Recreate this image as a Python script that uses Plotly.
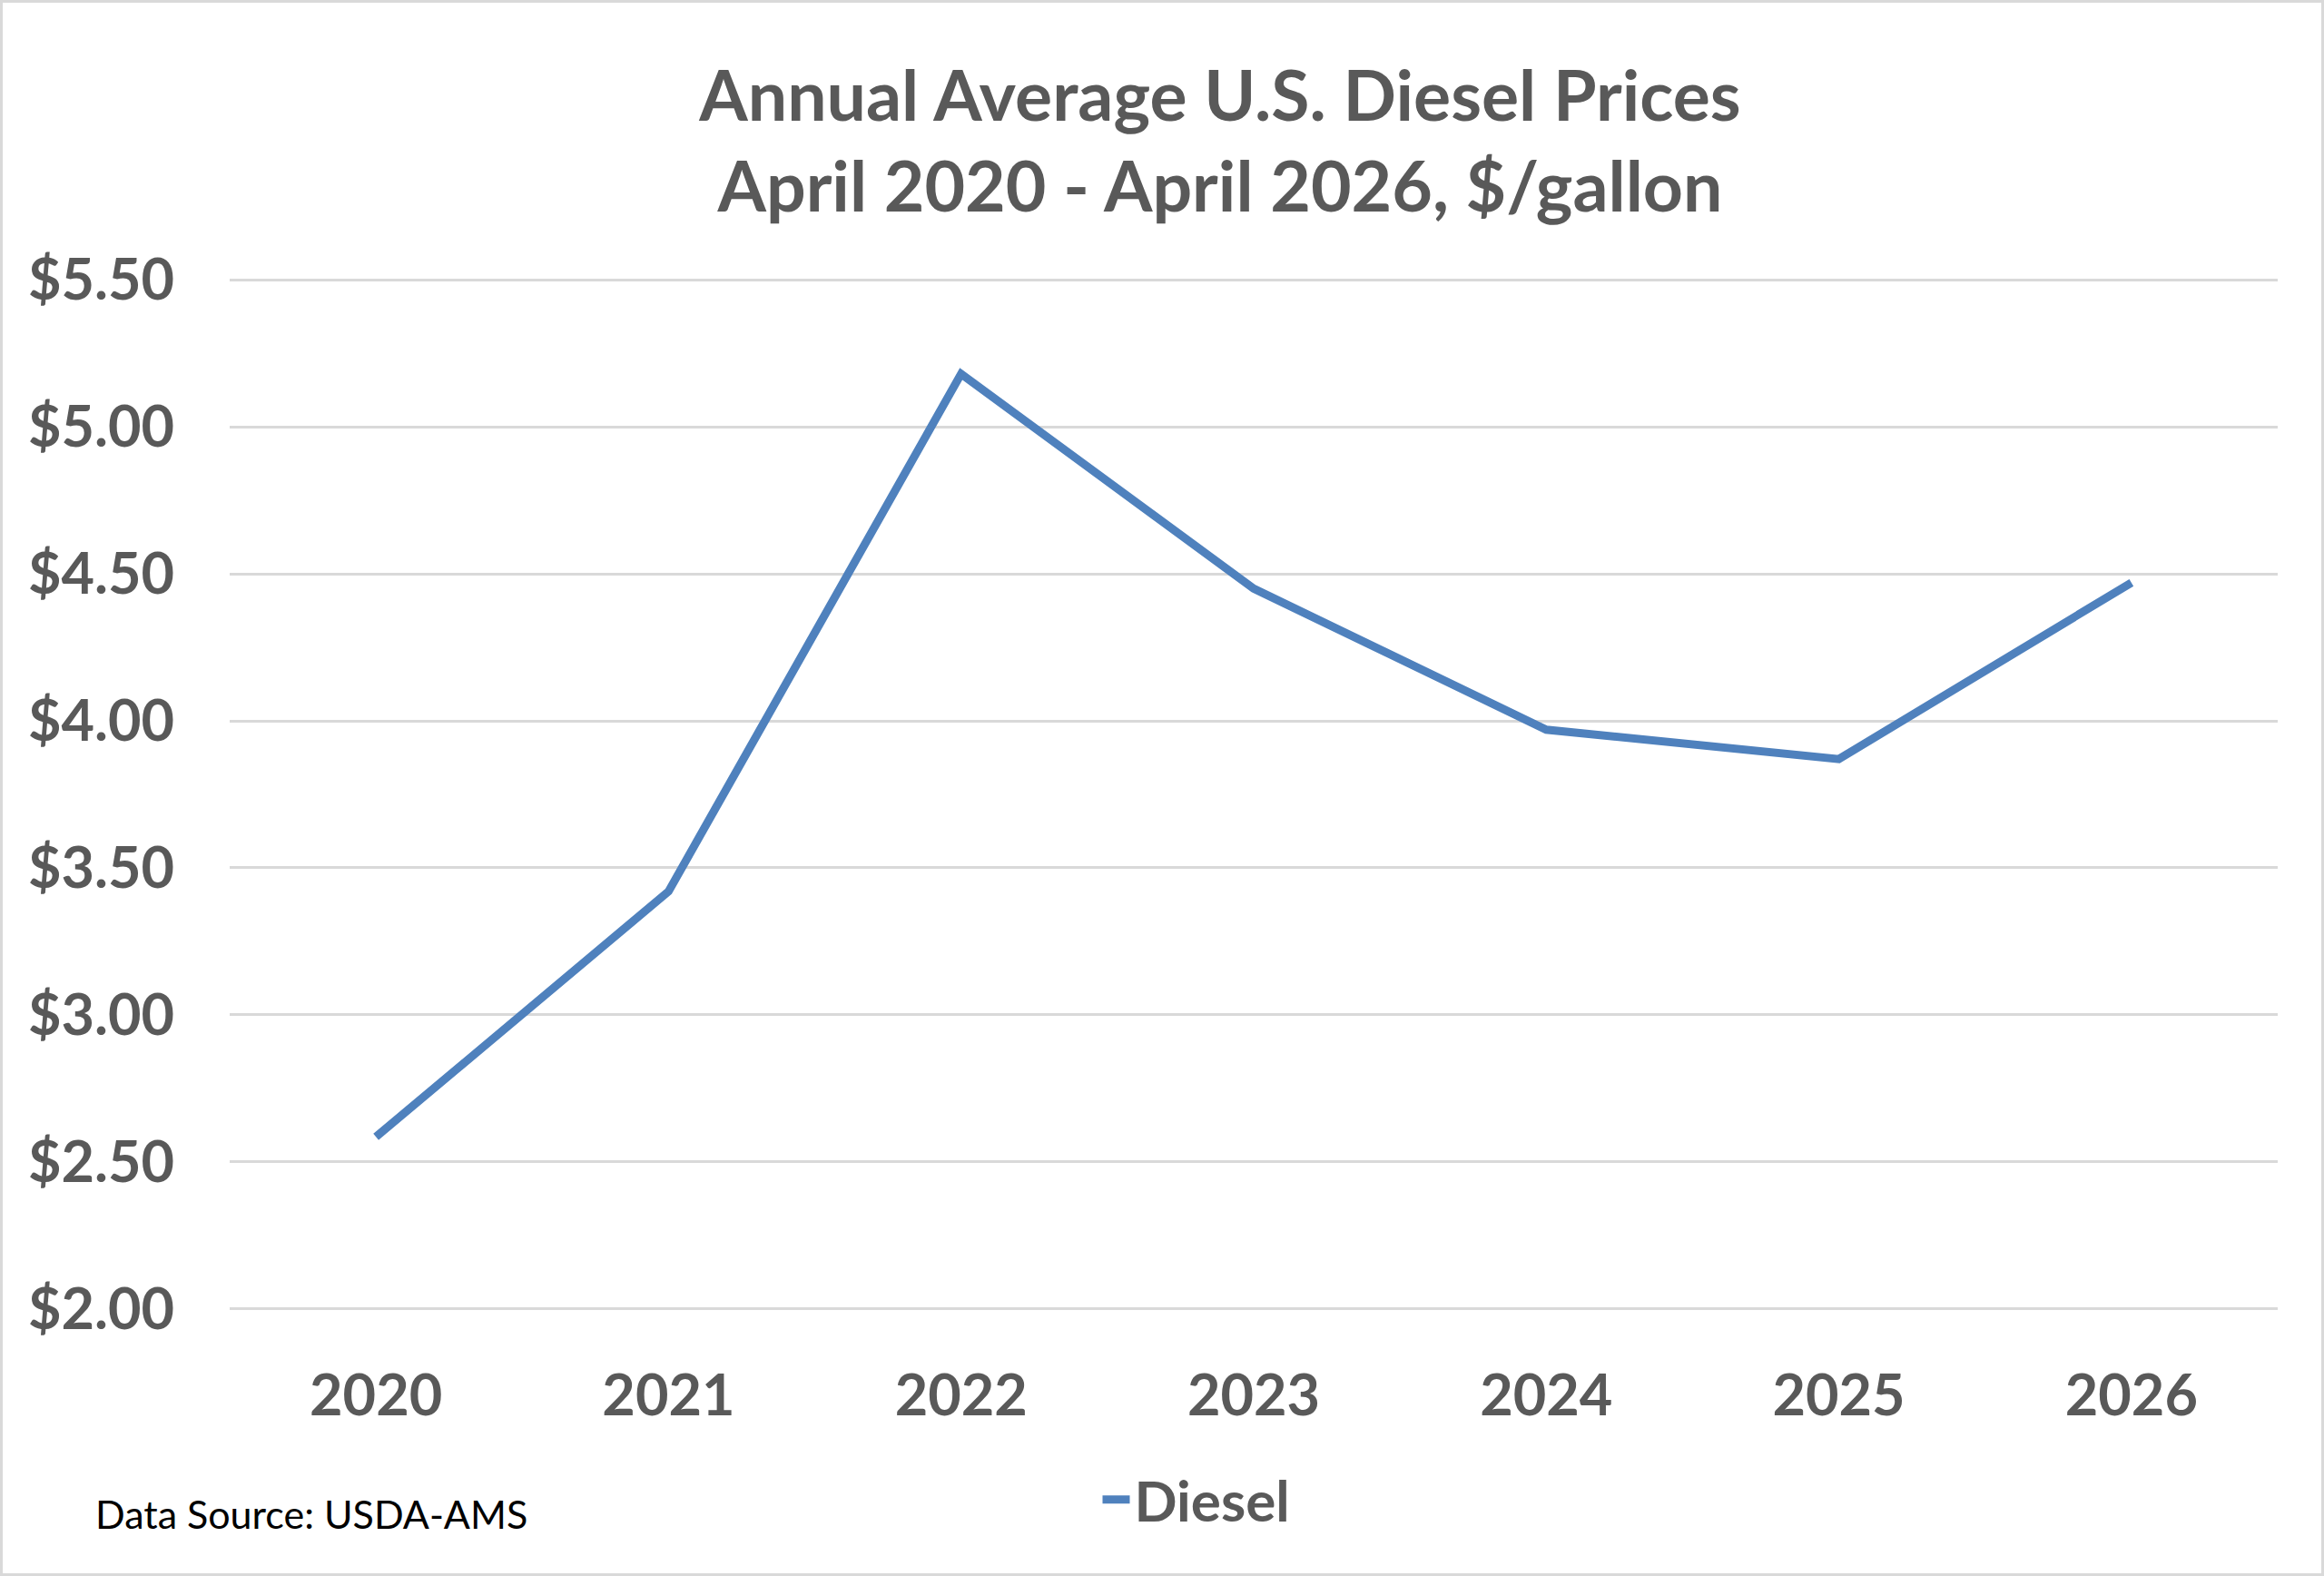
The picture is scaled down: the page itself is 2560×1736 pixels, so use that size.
import plotly.graph_objects as go

# values ($/gallon, annual average)
years = ["2020", "2021", "2022", "2023", "2024", "2025", "2026"]
diesel = [2.585, 3.42, 5.18, 4.45, 3.97, 3.87, 4.47]

y_ticks = [2.0, 2.5, 3.0, 3.5, 4.0, 4.5, 5.0, 5.5]
y_labels = ["$2.00", "$2.50", "$3.00", "$3.50", "$4.00", "$4.50", "$5.00", "$5.50"]

W, H = 2560, 1736
L, R, T, B = 253, 51, 305, 291
pw, ph = W - L - R, H - T - B

gray = "#595959"
grid = "#d9d9d9"
font = "Lato"


def px_x(p):
    return (p - L) / pw


def px_y(p):
    return (H - B - p) / ph


fig = go.Figure()
fig.add_trace(go.Scatter(
    x=years, y=diesel, name="Diesel", mode="lines",
    line=dict(color="#4F81BD", width=9),
))

fig.update_layout(
    width=W, height=H,
    margin=dict(l=L, r=R, t=T, b=B),
    paper_bgcolor="white", plot_bgcolor="white",
    font=dict(family=font, color=gray),
    title=dict(
        text="Annual Average U.S. Diesel Prices<br>April 2020 - April 2026, $/gallon",
        font=dict(family=font, size=77, color=gray, weight="bold"),
        x=1344 / W, xref="container", xanchor="center",
        y=1 - 133 / H, yref="container", yanchor="middle",
    ),
    showlegend=True,
    legend=dict(
        orientation="h", x=px_x(1318), xanchor="center",
        y=px_y(1652), yanchor="middle",
        font=dict(family=font, size=62, color=gray, weight="bold"),
        bgcolor="rgba(0,0,0,0)",
    ),
)

fig.update_xaxes(
    type="category", range=[-0.5, 6.5],
    showgrid=False, showline=False, zeroline=False, ticks="",
    tickfont=dict(family=font, size=63, color=gray, weight="bold"),
    ticklabelstandoff=50,
)
# small padding so the $2.00 and $5.50 gridlines are not clipped
fig.update_yaxes(
    range=[1.99, 5.51], tickvals=y_ticks, ticktext=y_labels,
    showgrid=True, gridcolor=grid, gridwidth=3,
    showline=False, zeroline=False, ticks="",
    tickfont=dict(family=font, size=63, color=gray, weight="bold"),
    ticklabelstandoff=60,
)

fig.add_annotation(
    text="Data Source: USDA-AMS", xref="paper", yref="paper",
    x=px_x(103), y=px_y(1667), xanchor="left", yanchor="middle",
    showarrow=False, font=dict(family=font, size=43, color="black"),
)

# light outer border of the chart area
fig.add_shape(
    type="rect", xref="paper", yref="paper",
    x0=px_x(1.5), x1=px_x(W - 1.5), y0=px_y(H - 1.5), y1=px_y(1.5),
    line=dict(color=grid, width=3), fillcolor="rgba(0,0,0,0)",
)

fig.write_html(
    "out.html",
    config={"displayModeBar": False},
    post_script="document.body.style.margin='0';",
)
